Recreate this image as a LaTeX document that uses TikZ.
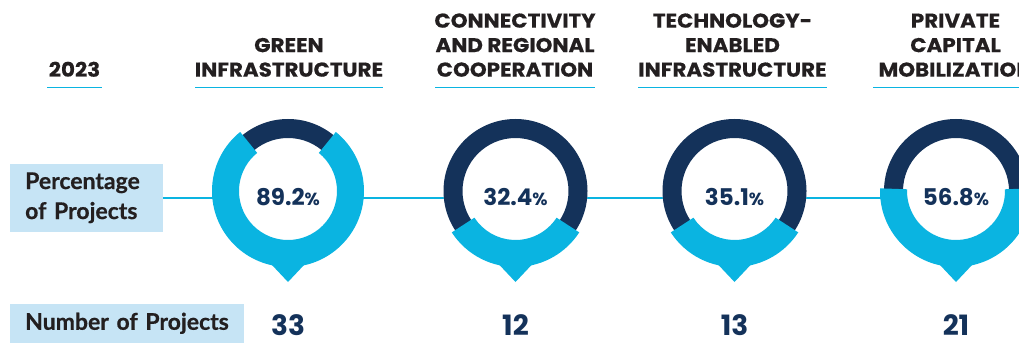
\documentclass[tikz,border=0pt]{standalone}
\usepackage{fontspec}
\setmainfont{Lato}
\newfontfamily\labfont{Lato}[FakeBold=0.6]
\newfontfamily\headfont{Poppins}[FakeStretch=1.07, FakeBold=0.5]
\newfontfamily\numfont{Poppins}
\definecolor{cyanc}{HTML}{0AB4E1}
\definecolor{navy}{HTML}{14325A}
\definecolor{ink}{HTML}{231F20}
\definecolor{pale}{HTML}{C6E4F5}
\tikzset{
  head/.style={anchor=south, inner sep=0pt, align=center, text=ink,
    font=\headfont\bfseries\fontsize{20}{24.5}\selectfont},
  uline/.style={draw=cyanc, line width=1.7pt},
  conn/.style={draw=cyanc, line width=1.6pt},
  labbox/.style={fill=pale, anchor=south west, inner ysep=0pt, inner xsep=15pt,
    align=left, text=ink, font=\labfont\bfseries\fontsize{23}{30}\selectfont},
  pct/.style={text=navy, inner sep=0pt, font=\numfont\bfseries\fontsize{23}{23}\selectfont},
  num/.style={text=navy, inner sep=0pt, anchor=base, font=\numfont\bfseries\fontsize{28}{28}\selectfont}
}
\newcommand\pc{{\fontsize{17.5}{17.5}\selectfont\%}}
\newcommand\donut[4]{%
  \fill[white] (#1,152) circle (72);
  \fill[navy, even odd rule] (#1,152) circle (72) (#1,152) circle (53);
  \fill[cyanc] ([shift={(#2:76)}]#1,152) arc[start angle=#2, end angle=#3, radius=76]
     -- ([shift={(#3:49)}]#1,152) arc[start angle=#3, end angle=#2, radius=49] -- cycle;
  \fill[cyanc] (#1-16.5,78.5) -- (#1,61) -- (#1+16.5,78.5) -- (#1+16.5,90) -- (#1-16.5,90) -- cycle;
  \coordinate (#4) at (#1,146);
}
\begin{document}
\begin{tikzpicture}[x=1pt,y=1pt]
\useasboundingbox (0,0) rectangle (1019,343);
\clip (0,0) rectangle (1019,343);
% headings
\node[head] (h0) at (74.5,266) {2023};
\node[head] (h1) at (289,266) {GREEN\\INFRASTRUCTURE};
\node[head] (h2) at (515,266) {CONNECTIVITY\\AND REGIONAL\\COOPERATION};
\node[head] (h3) at (732.5,266) {TECHNOLOGY-\\ENABLED\\INFRASTRUCTURE};
\node[head] (h4) at (955.5,266) {PRIVATE\\CAPITAL\\MOBILIZATION};
\draw[uline] (47,255.5) -- (102,255.5);
\draw[uline] (195,255.5) -- (383,255.5);
\draw[uline] (435,255.5) -- (595,255.5);
\draw[uline] (638,255.5) -- (827,255.5);
\draw[uline] (873,255.5) -- (1019,255.5);
% row labels
\node[labbox, minimum width=153pt, minimum height=68pt, text width=123pt] (plab) at (10,111)
  {Percentage\\of Projects};
\node[labbox, minimum width=234pt, minimum height=39pt, text width=204pt] (nlab) at (10,0)
  {Number of Projects};
\coordinate (rend) at (1019,145);
\draw[conn] (plab.east) -- (plab.east -| rend);
% rings
\donut{288}{129}{411}{r1}
\node[pct] (t1) at (r1) {89.2\pc};
\donut{515.5}{213}{327}{r2}
\node[pct] (t2) at (r2) {32.4\pc};
\donut{734.5}{213}{327}{r3}
\node[pct] (t3) at (r3) {35.1\pc};
\donut{956}{178}{362}{r4}
\node[pct] (t4) at (r4) {56.8\pc};
% numbers
\node[num] (n1) at (288,8) {33};
\node[num] (n2) at (515.5,8) {12};
\node[num] (n3) at (734.5,8) {13};
\node[num] (n4) at (956,8) {21};
\end{tikzpicture}
\end{document}
